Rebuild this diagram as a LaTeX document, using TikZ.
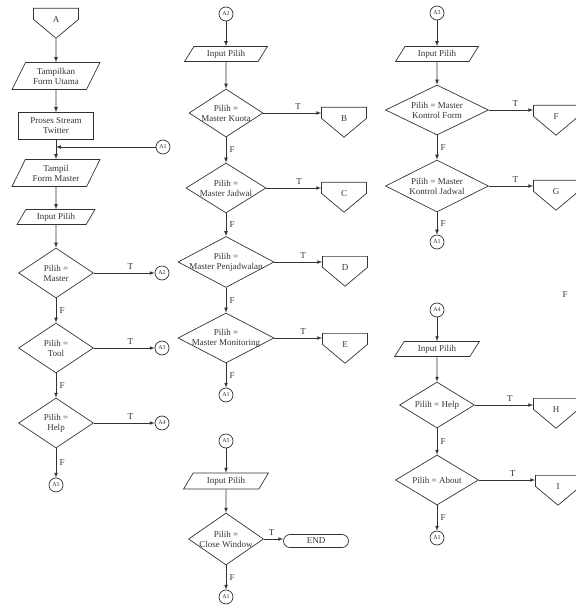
\documentclass[tikz,border=0pt]{standalone}
\usepackage{fontspec}
\setmainfont{Liberation Serif}
\usetikzlibrary{shapes.geometric,shapes.symbols}

\begin{document}
\begin{tikzpicture}[->,>=latex,x=1pt,y=-1pt,line width=0.7pt,color=black!80,
  font=\fontsize{9}{10}\selectfont,
  io/.style={trapezium,trapezium left angle=60,trapezium right angle=120,
    trapezium stretches=true,draw,align=center,inner sep=1pt,minimum height=15pt},
  proc/.style={rectangle,draw,align=center,inner sep=1pt,minimum width=75pt,minimum height=27pt},
  decision/.style={diamond,draw,inner sep=0pt,minimum width=75pt,minimum height=50pt,
    label={[align=center]center:#1}},
  conn/.style={circle,draw,inner sep=0pt,minimum size=14pt,font=\fontsize{6}{6}\selectfont},
  offpage/.style={signal,signal to=south,signal pointer angle=100,draw,inner sep=0pt,
    minimum width=45pt,minimum height=11pt,anchor=north,label={[yshift=-6pt]center:#1}},
  terminal/.style={rectangle,rounded corners=6.5pt,draw,inner sep=0pt,
    minimum width=65pt,minimum height=13pt}]

  \useasboundingbox (0,0) rectangle (575,609);

  % kolom kiri: menu utama
  \node[offpage=A] (a) at (56,8) {};
  \node[io,minimum width=88pt,minimum height=27pt] (tampilUtama) at (56,76) {Tampilkan\\Form Utama};
  \node[proc] (proses) at (56,126) {Proses Stream\\Twitter};
  \coordinate (jn) at (56,147);
  \node[conn] (a1Kiri) at (163,147) {A1};
  \node[io,minimum width=88pt,minimum height=27pt] (tampilMaster) at (56,173) {Tampil\\Form Master};
  \node[io,minimum width=78pt] (input1) at (56,217) {Input Pilih};
  \node[decision={Pilih =\\Master}] (dMaster) at (56,273) {};
  \node[conn] (a2Kiri) at (162,273) {A2};
  \node[decision={Pilih =\\Tool}] (dTool) at (56,348) {};
  \node[conn] (a3Kiri) at (162,348) {A3};
  \node[decision={Pilih =\\Help}] (dHelp) at (56,423) {};
  \node[conn] (a4Kiri) at (162,423) {A4};
  \node[conn] (a5Kiri) at (56,485) {A5};

  \path
  (a) edge (tampilUtama)
  (tampilUtama) edge (proses)
  (proses) edge (tampilMaster)
  (a1Kiri) edge (jn)
  (tampilMaster) edge (input1)
  (input1) edge (dMaster)
  (dMaster) edge node[above,pos=0.6] {T} (a2Kiri)
  (dMaster) edge node[right] {F} (dTool)
  (dTool) edge node[above,pos=0.6] {T} (a3Kiri)
  (dTool) edge node[right] {F} (dHelp)
  (dHelp) edge node[above,pos=0.6] {T} (a4Kiri)
  (dHelp) edge node[right] {F} (a5Kiri);

  % kolom tengah: menu master
  \node[conn] (a2) at (226,14) {A2};
  \node[io,minimum width=83pt] (input2) at (226,54) {Input Pilih};
  \node[decision={Pilih =\\Master Kuota},minimum width=74pt,minimum height=48pt] (dKuota) at (226,113) {};
  \node[offpage=B] (b) at (344,107) {};
  \node[decision={Pilih =\\Master Jadwal},minimum width=80pt] (dJadwal) at (226,188) {};
  \node[offpage=C] (c) at (344,182) {};
  \node[decision={Pilih =\\Master Penjadwalan},minimum width=96pt,minimum height=51pt] (dPenjadwalan) at (226,262) {};
  \node[offpage=D] (d) at (345,256) {};
  \node[decision={Pilih =\\Master Monitoring},minimum width=96pt] (dMonitoring) at (226,338) {};
  \node[offpage=E] (e) at (345,333) {};
  \node[conn] (a1Dua) at (226,395) {A1};

  \path
  (a2) edge (input2)
  (input2) edge (dKuota)
  (dKuota.east) edge node[above,pos=0.6] {T} (dKuota -| b.north west)
  (dKuota) edge node[right] {F} (dJadwal)
  (dJadwal.east) edge node[above,pos=0.6] {T} (dJadwal -| c.north west)
  (dJadwal) edge node[right] {F} (dPenjadwalan)
  (dPenjadwalan.east) edge node[above,pos=0.6] {T} (dPenjadwalan -| d.north west)
  (dPenjadwalan) edge node[right] {F} (dMonitoring)
  (dMonitoring.east) edge node[above,pos=0.6] {T} (dMonitoring -| e.north west)
  (dMonitoring) edge node[right] {F} (a1Dua);

  % kolom kanan atas: menu tool
  \node[conn] (a3) at (437,13) {A3};
  \node[io,minimum width=83pt] (input3) at (437,54) {Input Pilih};
  \node[decision={Pilih = Master\\Kontrol Form},minimum width=103pt] (dKontrolForm) at (437,110) {};
  \node[offpage=F] (f) at (556,105) {};
  \node[decision={Pilih = Master\\Kontrol Jadwal},minimum width=103pt,minimum height=52pt] (dKontrolJadwal) at (437,186) {};
  \node[offpage=G] (g) at (556,180) {};
  \node[conn] (a1Tiga) at (437,242) {A1};

  \path
  (a3) edge (input3)
  (input3) edge (dKontrolForm)
  (dKontrolForm.east) edge node[above,pos=0.6] {T} (dKontrolForm -| f.north west)
  (dKontrolForm) edge node[right] {F} (dKontrolJadwal)
  (dKontrolJadwal.east) edge node[above,pos=0.6] {T} (dKontrolJadwal -| g.north west)
  (dKontrolJadwal) edge node[right] {F} (a1Tiga);

  \node (fLepas) at (565,295) {F};

  % kolom kanan bawah: menu help
  \node[conn] (a4) at (437,310) {A4};
  \node[io,minimum width=85pt] (input4) at (437,349) {Input Pilih};
  \node[decision={Pilih = Help},minimum height=46pt] (dHelp2) at (437,405) {};
  \node[offpage=H] (h) at (556,398) {};
  \node[decision={Pilih = About},minimum width=83pt] (dAbout) at (437,480) {};
  \node[offpage=I] (i) at (558,475) {};
  \node[conn] (a1Empat) at (437,538) {A1};

  \path
  (a4) edge (input4)
  (input4) edge (dHelp2)
  (dHelp2.east) edge node[above,pos=0.6] {T} (dHelp2 -| h.north west)
  (dHelp2) edge node[right] {F} (dAbout)
  (dAbout.east) edge node[above,pos=0.6] {T} (dAbout -| i.north west)
  (dAbout) edge node[right] {F} (a1Empat);

  % kolom tengah bawah: keluar
  \node[conn] (a5) at (226,441) {A5};
  \node[io,minimum width=85pt,minimum height=16pt] (input5) at (226,481) {Input Pilih};
  \node[decision={Pilih =\\Close Window},minimum height=52pt] (dClose) at (226,539) {};
  \node[terminal] (selesai) at (316,541) {END};
  \node[conn] (a1Lima) at (226,597) {A1};

  \path
  (a5) edge (input5)
  (input5) edge (dClose)
  (dClose.east) edge node[above,pos=0.4] {T} (dClose -| selesai.west)
  (dClose) edge node[right] {F} (a1Lima);
\end{tikzpicture}
\end{document}
